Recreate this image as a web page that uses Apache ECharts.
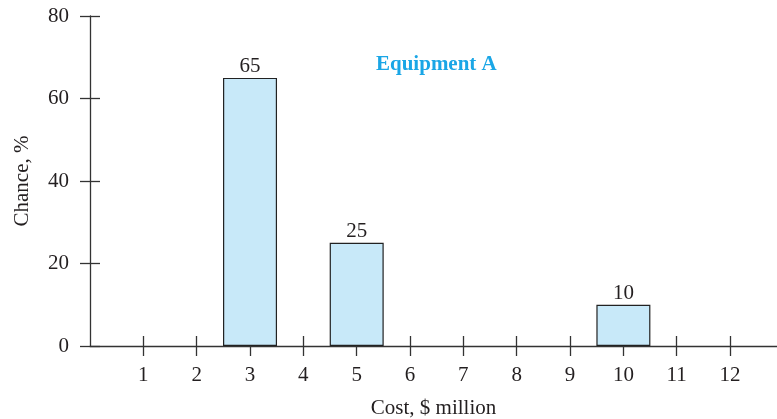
<!DOCTYPE html>
<html>
<head>
<meta charset="utf-8">
<script src="https://cdn.jsdelivr.net/npm/echarts@6/dist/echarts.min.js"></script>
<style>
  html, body { margin: 0; padding: 0; background: #fff; }
  #chart { width: 777px; height: 419px; }
</style>
</head>
<body>
<div id="chart"></div>
<script>
// cost categories ($ million) and the chance of each
var costTicks = [1, 2, 3, 4, 5, 6, 7, 8, 9, 10, 11, 12];
var costs = [3, 5, 10];
var chances = [65, 25, 10];

var font = 'Liberation Serif';
var axisColor = '#333';
var textColor = '#231f20';

var myChart = echarts.init(document.getElementById('chart'), null, { renderer: 'canvas' });

var option = {
    animation: false,
    grid: {
        left: 90,
        right: 0,
        top: 16,
        bottom: 73,
        outerBoundsMode: 'none',
        containLabel: false
    },
    title: {
        text: 'Equipment A',
        left: 376,
        top: 54,
        padding: 0,
        textStyle: {
            fontFamily: font,
            fontWeight: 'bold',
            fontSize: 21,
            color: '#1aa6e6'
        }
    },
    xAxis: [
        {
            type: 'value',
            min: 0,
            max: 12.88,
            interval: 1,
            splitLine: { show: false },
            axisLine: { onZero: false, lineStyle: { color: axisColor, width: 1.3 } },
            axisTick: {
                show: true, length: 10, inside: false,
                customValues: costTicks,
                lineStyle: { color: axisColor, width: 1.3 }
            },
            axisLabel: {
                customValues: costTicks,
                margin: 19,
                fontFamily: font,
                fontSize: 21,
                color: textColor
            },
            name: 'Cost, $ million',
            nameLocation: 'middle',
            nameGap: 52,
            nameTextStyle: { fontFamily: font, fontSize: 21, color: textColor }
        },
        {
            // second axis only to draw the upper half of the crossing ticks
            type: 'value',
            min: 0,
            max: 12.88,
            interval: 1,
            position: 'bottom',
            splitLine: { show: false },
            axisLine: { show: false },
            axisTick: {
                show: true, length: 10, inside: true,
                customValues: costTicks,
                lineStyle: { color: axisColor, width: 1.3 }
            },
            axisLabel: { show: false }
        }
    ],
    yAxis: [
        {
            type: 'value',
            min: 0,
            max: 80,
            interval: 20,
            splitLine: { show: false },
            axisLine: { show: true, lineStyle: { color: axisColor, width: 1.3 } },
            axisTick: { show: true, length: 10, lineStyle: { color: axisColor, width: 1.3 } },
            axisLabel: {
                margin: 21,
                fontFamily: font,
                fontSize: 21,
                color: textColor
            },
            name: 'Chance, %',
            nameLocation: 'middle',
            nameGap: 57,
            nameTextStyle: { fontFamily: font, fontSize: 21, color: textColor }
        },
        {
            type: 'value',
            min: 0,
            max: 80,
            interval: 20,
            position: 'left',
            splitLine: { show: false },
            axisLine: { show: false },
            axisTick: { show: true, inside: true, length: 10, lineStyle: { color: axisColor, width: 1.3 } },
            axisLabel: { show: false }
        }
    ],
    series: [
        {
            type: 'bar',
            xAxisIndex: 0,
            yAxisIndex: 0,
            barWidth: 54,
            data: costs.map((c, i) => [c, chances[i]]),
            itemStyle: {
                color: '#c8e9f9',
                borderColor: '#222',
                borderWidth: 1.2
            },
            label: {
                show: true,
                position: 'top',
                distance: 1,
                formatter: p => p.value[1],
                fontFamily: font,
                fontSize: 21,
                color: textColor
            }
        }
    ]
};

myChart.setOption(option);
</script>
</body>
</html>
